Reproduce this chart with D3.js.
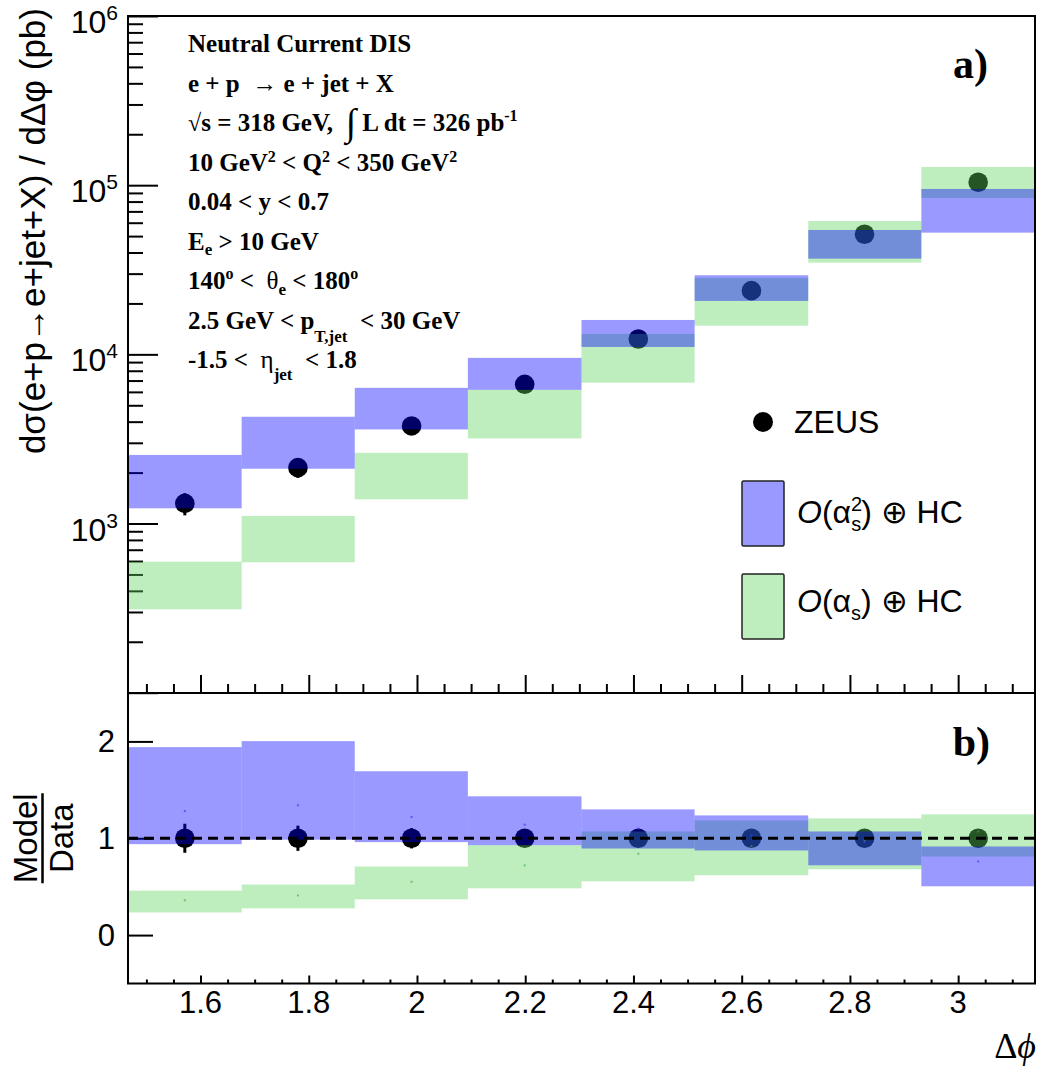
<!DOCTYPE html>
<html><head><meta charset="utf-8">
<script src="https://cdn.jsdelivr.net/npm/d3@7"></script>
<style>body{margin:0;background:#fff} text{white-space:pre}</style>
</head><body><svg id="c" width="1039" height="1070"></svg>
<script>
// ---------------- data ----------------
const binEdges   = [1.466, 1.676, 1.885, 2.094, 2.304, 2.513, 2.723, 2.932, 3.142];
const binCenters = [1.571, 1.780, 1.990, 2.199, 2.409, 2.618, 2.827, 3.037];
const zeusXsec   = [1315, 2140, 3775, 6650, 12330, 23790, 51280, 104000];
const zeusRelErr = [0.15, 0.13, 0.105, 0.08, 0.06, 0.05, 0.05, 0.05];
const nloHi  = [2544, 4277, 6339, 9535, 15970, 29350, 54360, 94950];   // O(as^2)+HC
const nloLo  = [1230, 2108, 3599, 6170, 11060, 20690, 36790, 52410];
const loHi   = [595, 1110, 2617, 6170, 13200, 28290, 61430, 128100];   // O(as)+HC
const loLo   = [311, 590, 1390, 3184, 6804, 14780, 34830, 84000];
const ratioNloHi = [1.941, 2.003, 1.692, 1.433, 1.298, 1.236, 1.070, 0.915];
const ratioNloLo = [0.939, 0.985, 0.960, 0.929, 0.894, 0.874, 0.721, 0.504];
const ratioNloMid = [1.28, 1.34, 1.22, 1.14, 1.10, 1.03, 0.96, 0.76];
const ratioLoHi  = [0.459, 0.522, 0.708, 0.929, 1.070, 1.184, 1.205, 1.247];
const ratioLoLo  = [0.234, 0.276, 0.369, 0.483, 0.556, 0.618, 0.680, 0.811];
const ratioLoMid = [0.36, 0.41, 0.55, 0.72, 0.84, 0.92, 0.98, 1.07];
const ratioData  = [1, 1, 1, 1, 1, 1, 1, 1];
const xTickValues = [1.6, 1.8, 2.0, 2.2, 2.4, 2.6, 2.8, 3.0];
const xTickLabels = ["1.6", "1.8", "2", "2.2", "2.4", "2.6", "2.8", "3"];
const yTopDecades = [2, 3, 4, 5, 6];
const yTopLabelExps = ["3", "4", "5", "6"];
const yBotTicks = [0, 1, 2];
const yBotLabels = ["0", "1", "2"];

// ---------------- layout ----------------
const L = 128, R = 1035, T = 16, M = 693, B = 983.5;
const svg = d3.select("#c");
const x = d3.scaleLinear().domain([binEdges[0], binEdges[binEdges.length - 1]]).range([L, R]);
const yTop = d3.scaleLog().domain([1e2, 1e6]).range([692.7, T]);
const yBot = d3.scaleLinear().domain([-0.5, 2.5]).range([B, M]);
const blueA = "rgba(0,0,255,0.4)", greenA = "rgba(92,210,92,0.4)";
const SANS = "'Liberation Sans', Arial, Helvetica, sans-serif";
const SERIF = "'Liberation Serif', 'Times New Roman', serif";

function styleAxis(g) {
  g.select(".domain").remove();
  g.selectAll(".tick line").attr("stroke", "#000").attr("stroke-width", 2);
  g.selectAll(".tick text").remove();
}
const ax = svg.append("g");
// top panel y ticks
const minorLog = [];
for (let d = 2; d < 6; d++) for (let k = 2; k <= 9; k++) minorLog.push(k * Math.pow(10, d));
ax.append("g").attr("transform", `translate(${L},0)`)
  .call(d3.axisLeft(yTop).tickValues(yTopDecades.map(d => Math.pow(10, d))).tickSizeInner(-30).tickSizeOuter(0).tickFormat(""))
  .call(styleAxis);
ax.append("g").attr("transform", `translate(${L},0)`)
  .call(d3.axisLeft(yTop).tickValues(minorLog).tickSizeInner(-15).tickSizeOuter(0).tickFormat(""))
  .call(styleAxis);
// x minor values
const xMinor = d3.range(30, 63).map(i => i * 0.05).filter(v => v > binEdges[0] && v < binEdges[8] && !xTickValues.some(t => Math.abs(t - v) < 1e-6));
// top panel x ticks
ax.append("g").attr("transform", `translate(0,${M})`)
  .call(d3.axisBottom(x).tickValues(xTickValues).tickSizeInner(-18).tickSizeOuter(0).tickFormat("")).call(styleAxis);
ax.append("g").attr("transform", `translate(0,${M})`)
  .call(d3.axisBottom(x).tickValues(xMinor).tickSizeInner(-9).tickSizeOuter(0).tickFormat("")).call(styleAxis);
// bottom panel
ax.append("g").attr("transform", `translate(${L},0)`)
  .call(d3.axisLeft(yBot).tickValues(yBotTicks).tickSizeInner(-25).tickSizeOuter(0).tickFormat("")).call(styleAxis);
ax.append("g").attr("transform", `translate(0,${B})`)
  .call(d3.axisBottom(x).tickValues(xTickValues).tickSizeInner(-8).tickSizeOuter(0).tickFormat("")).call(styleAxis);
ax.append("g").attr("transform", `translate(0,${B})`)
  .call(d3.axisBottom(x).tickValues(xMinor).tickSizeInner(-4).tickSizeOuter(0).tickFormat("")).call(styleAxis);

// ---------------- markers (drawn beneath bands) ----------------
const mk = svg.append("g");
binCenters.forEach((c, i) => {
  const v = zeusXsec[i], e = zeusRelErr[i];
  mk.append("line").attr("x1", x(c)).attr("x2", x(c)).attr("y1", yTop(v * (1 - e))).attr("y2", yTop(v * (1 + e)))
    .attr("stroke", "#000").attr("stroke-width", 3);
  mk.append("circle").attr("cx", x(c)).attr("cy", yTop(v)).attr("r", 9.8).attr("fill", "#000");
  const r = ratioData[i];
  mk.append("line").attr("x1", x(c)).attr("x2", x(c)).attr("y1", yBot(r - e)).attr("y2", yBot(r + e))
    .attr("stroke", "#000").attr("stroke-width", 3);
  mk.append("circle").attr("cx", x(c)).attr("cy", yBot(r)).attr("r", 9.8).attr("fill", "#000");
});

// ---------------- bands ----------------
const bands = svg.append("g");
function band(lo, hi, yS, fill) {
  bands.selectAll(null).data(d3.range(8)).enter().append("rect")
    .attr("x", i => x(binEdges[i])).attr("width", i => x(binEdges[i + 1]) - x(binEdges[i]))
    .attr("y", i => yS(hi[i])).attr("height", i => yS(lo[i]) - yS(hi[i]))
    .attr("fill", fill);
}
band(loLo, loHi, yTop, greenA);
band(nloLo, nloHi, yTop, blueA);
band(ratioLoLo, ratioLoHi, yBot, greenA);
band(ratioNloLo, ratioNloHi, yBot, blueA);
binCenters.forEach((c, i) => {
  bands.append("rect").attr("x", x(c) - 1).attr("y", yBot(ratioNloMid[i]) - 1).attr("width", 2).attr("height", 2).attr("fill", "rgba(60,60,255,0.7)");
  bands.append("rect").attr("x", x(c) - 1).attr("y", yBot(ratioLoMid[i]) - 1).attr("width", 2).attr("height", 2).attr("fill", "rgba(60,170,60,0.6)");
});

// dashed unity line
svg.append("line").attr("x1", L).attr("x2", R).attr("y1", yBot(1)).attr("y2", yBot(1))
  .attr("stroke", "#000").attr("stroke-width", 3).attr("stroke-dasharray", "10,6");

// ---------------- frames ----------------
svg.append("rect").attr("x", L).attr("y", T).attr("width", R - L).attr("height", M - T)
  .attr("fill", "none").attr("stroke", "#000").attr("stroke-width", 2);
svg.append("rect").attr("x", L).attr("y", M).attr("width", R - L).attr("height", B - M)
  .attr("fill", "none").attr("stroke", "#000").attr("stroke-width", 2);

// ---------------- text helpers ----------------
function rich(parent, px, py, parts, base) {
  const t = parent.append("text").attr("x", px).attr("y", py);
  Object.entries(base || {}).forEach(([k, v]) => t.attr(k, v));
  let cur = 0;
  parts.forEach(p => {
    const off = p.off || 0;
    const ts = t.append("tspan").text(p.t).attr("dy", off - cur);
    cur = off;
    if (p.size) ts.attr("font-size", p.size);
    if (p.family) ts.attr("font-family", p.family);
    if (p.weight) ts.attr("font-weight", p.weight);
    if (p.style) ts.attr("font-style", p.style);
    if (p.dx) ts.attr("dx", p.dx);
  });
  return t;
}

// y tick labels (top)
yTopLabelExps.forEach(e => {
  const yy = yTop(Math.pow(10, +e));
  rich(svg, 118, yy + 17, [{t: "10"}, {t: e, size: 21, off: -13}],
    {"font-family": SANS, "font-size": 32, "text-anchor": "end"});
});
// y tick labels (bottom)
yBotTicks.forEach((v, i) => {
  svg.append("text").attr("x", 115).attr("y", yBot(v) + 11).attr("text-anchor", "end")
    .attr("font-family", SANS).attr("font-size", 31).text(yBotLabels[i]);
});
// x tick labels
xTickValues.forEach((v, i) => {
  svg.append("text").attr("x", x(v)).attr("y", 1013).attr("text-anchor", "middle")
    .attr("font-family", SANS).attr("font-size", 31).text(xTickLabels[i]);
});
// x title
rich(svg, 1036, 1058, [{t: "Δ", style: "normal"}, {t: "ϕ", style: "italic"}],
  {"font-family": SERIF, "font-size": 36, "text-anchor": "end"});
// y title (top)
svg.append("text").attr("transform", "translate(45,8) rotate(-90)").attr("text-anchor", "end")
  .attr("font-family", SANS).attr("font-size", 35).text("dσ(e+p→e+jet+X) / dΔφ (pb)");
// y title (bottom): Model / Data
const fr = svg.append("g").attr("transform", `translate(0,${yBot(1)}) rotate(-90)`);
fr.append("text").attr("x", 0).attr("y", 37).attr("text-anchor", "middle").attr("font-family", SANS).attr("font-size", 33).text("Model");
fr.append("line").attr("x1", -45).attr("x2", 45).attr("y1", 42.5).attr("y2", 42.5).attr("stroke", "#000").attr("stroke-width", 2.5);
fr.append("text").attr("x", 0).attr("y", 73).attr("text-anchor", "middle").attr("font-family", SANS).attr("font-size", 33).text("Data");

// panel labels
svg.append("text").attr("x", 988).attr("y", 78).attr("text-anchor", "end").attr("font-family", SERIF)
  .attr("font-weight", "bold").attr("font-size", 42).text("a)");
svg.append("text").attr("x", 990).attr("y", 756).attr("text-anchor", "end").attr("font-family", SERIF)
  .attr("font-weight", "bold").attr("font-size", 42).text("b)");

// annotation block
const ann = svg.append("g");
const aBase = {"font-family": SERIF, "font-size": 25, "font-weight": "bold"};
const lines = [
  [{t: "Neutral Current DIS"}],
  [{t: "e + p  "}, {t: "→", weight: "normal"}, {t: " e + jet + X"}],
  [{t: "√", size: 24}, {t: "s = 318 GeV,  "}, {t: "∫", weight: "normal", size: 38, off: 4}, {t: " L dt = 326 pb"}, {t: "-1", size: 16, off: -10}],
  [{t: "10 GeV"}, {t: "2", size: 16, off: -9}, {t: " < Q"}, {t: "2", size: 16, off: -9}, {t: " < 350 GeV"}, {t: "2", size: 16, off: -9}],
  [{t: "0.04 < y < 0.7"}],
  [{t: "E"}, {t: "e", size: 17, off: 5}, {t: " > 10 GeV"}],
  [{t: "140"}, {t: "o", size: 16, off: -10}, {t: " <  "}, {t: "θ", weight: "normal"}, {t: "e", size: 17, off: 6}, {t: " < 180"}, {t: "o", size: 16, off: -10}],
  [{t: "2.5 GeV < p"}, {t: "T,jet", size: 17, off: 13}, {t: "  < 30 GeV"}],
  [{t: "-1.5 <  "}, {t: "η", weight: "normal"}, {t: "jet", size: 17, off: 12}, {t: "  < 1.8"}]
];
lines.forEach((parts, i) => rich(ann, 188, 52 + i * 39.5, parts, aBase));

// legend
const lg = svg.append("g");
lg.append("circle").attr("cx", 763).attr("cy", 422).attr("r", 10).attr("fill", "#000");
lg.append("text").attr("x", 794).attr("y", 433).attr("font-family", SANS).attr("font-size", 32).text("ZEUS");
lg.append("rect").attr("x", 742).attr("y", 481).attr("width", 42).attr("height", 65).attr("rx", 1.5)
  .attr("fill", "#9999ff").attr("stroke", "#222").attr("stroke-width", 1.5);
lg.append("rect").attr("x", 742).attr("y", 574).attr("width", 42).attr("height", 65).attr("rx", 1.5)
  .attr("fill", "#beedbe").attr("stroke", "#222").attr("stroke-width", 1.5);
rich(lg, 797, 523, [{t: "O", style: "italic"}, {t: "(α"}, {t: "2", size: 20, off: -12}, {t: "s", size: 20, off: 8, dx: -11}, {t: ") ⊕ HC"}],
  {"font-family": SANS, "font-size": 32});
rich(lg, 797, 612, [{t: "O", style: "italic"}, {t: "(α"}, {t: "s", size: 20, off: 8}, {t: ") ⊕ HC"}],
  {"font-family": SANS, "font-size": 32});
</script>
</body></html>
